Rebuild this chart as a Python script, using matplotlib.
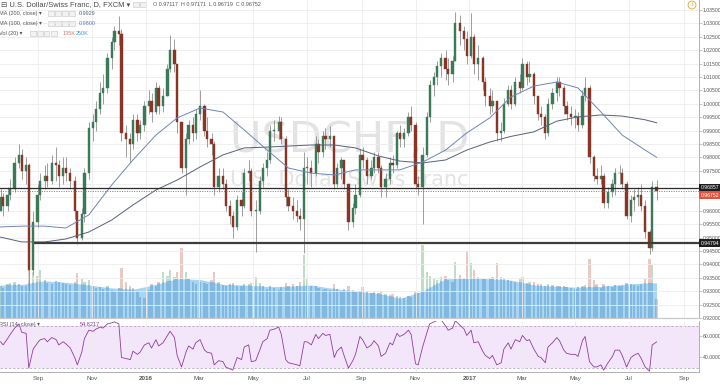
import numpy as np
import pandas as pd
import matplotlib
matplotlib.use("Agg")
import matplotlib.pyplot as plt
import matplotlib.dates as mdates
from matplotlib.patches import Rectangle

plt.rcParams["font.family"] = ["Liberation Sans", "DejaVu Sans"]

# USDCHF, one candle per 3 trading days
first_open = 0.9600
close = [
    0.9650, 0.9620, 0.9660, 0.9680, 0.9780, 0.9810, 0.9750, 0.9770, 0.9380, 0.9560,
    0.9660, 0.9710, 0.9730, 0.9710, 0.9780, 0.9770, 0.9730, 0.9760, 0.9740, 0.9710,
    0.9600, 0.9500, 0.9590, 0.9740, 0.9910, 0.9930, 0.9980, 1.0040, 1.0060, 1.0170,
    1.0230, 1.0270, 1.0260, 0.9890, 0.9870, 0.9850, 0.9940, 0.9890, 0.9920, 0.9990,
    1.0010, 0.9970, 1.0060, 0.9990, 1.0030, 1.0130, 1.0200, 1.0150, 0.9930, 0.9760,
    0.9870, 0.9920, 0.9890, 0.9960, 0.9990, 0.9900, 0.9870, 0.9850, 0.9690, 0.9730,
    0.9700, 0.9620, 0.9580, 0.9540, 0.9640, 0.9620, 0.9740, 0.9750, 0.9600, 0.9600,
    0.9710, 0.9760, 0.9790, 0.9900, 0.9900, 0.9930, 0.9870, 0.9650, 0.9620, 0.9600,
    0.9580, 0.9570, 0.9760, 0.9760, 0.9740, 0.9850, 0.9820, 0.9880, 0.9870, 0.9880,
    0.9700, 0.9760, 0.9790, 0.9700, 0.9560, 0.9610, 0.9660, 0.9810, 0.9790, 0.9730,
    0.9760, 0.9800, 0.9760, 0.9690, 0.9720, 0.9780, 0.9770, 0.9890, 0.9870, 0.9890,
    0.9950, 0.9920, 0.9700, 0.9690, 0.9810, 0.9950, 1.0070, 1.0100, 1.0140, 1.0170,
    1.0130, 1.0110, 1.0160, 1.0300, 1.0270, 1.0240, 1.0180, 1.0250, 1.0150, 1.0170,
    1.0080, 1.0030, 0.9990, 1.0010, 0.9890, 0.9900, 1.0000, 1.0050, 1.0000, 1.0080,
    1.0060, 1.0150, 1.0100, 1.0110, 1.0030, 0.9960, 0.9950, 0.9890, 1.0000, 1.0040,
    1.0080, 1.0060, 0.9990, 0.9960, 0.9950, 0.9950, 0.9920, 1.0030, 1.0060, 0.9800,
    0.9730, 0.9720, 0.9730, 0.9630, 0.9670, 0.9700, 0.9740, 0.9740, 0.9700, 0.9580,
    0.9640, 0.9650, 0.9660, 0.9620, 0.9520, 0.9460, 0.9690, 0.96752,
]
high = [
    0.9680, 0.9665, 0.9690, 0.9720, 0.9800, 0.9850, 0.9830, 0.9800, 0.9780, 0.9600,
    0.9700, 0.9740, 0.9770, 0.9780, 0.9810, 0.9840, 0.9790, 0.9800, 0.9800, 0.9760,
    0.9730, 0.9600, 0.9610, 0.9760, 0.9930, 0.9960, 1.0010, 1.0080, 1.0110, 1.0190,
    1.0250, 1.0290, 1.0328, 1.0280, 0.9920, 0.9890, 0.9960, 0.9960, 0.9940, 1.0010,
    1.0050, 1.0040, 1.0080, 1.0070, 1.0060, 1.0150, 1.0257, 1.0240, 1.0150, 0.9930,
    0.9890, 0.9940, 0.9950, 0.9980, 1.0050, 1.0000, 0.9950, 0.9890, 0.9860, 0.9760,
    0.9760, 0.9720, 0.9640, 0.9600, 0.9660, 0.9670, 0.9760, 0.9790, 0.9760, 0.9640,
    0.9730, 0.9780, 0.9820, 0.9920, 0.9940, 0.9955, 0.9950, 0.9880, 0.9680, 0.9650,
    0.9640, 0.9610, 0.9820, 0.9800, 0.9790, 0.9880, 0.9870, 0.9900, 0.9910, 0.9915,
    0.9880, 0.9780, 0.9800, 0.9790, 0.9700, 0.9630, 0.9700, 0.9830, 0.9840, 0.9800,
    0.9790, 0.9820, 0.9820, 0.9770, 0.9740, 0.9800, 0.9810, 0.9900, 0.9920, 0.9910,
    0.9970, 0.9990, 0.9930, 0.9730, 0.9840, 0.9970, 1.0090, 1.0120, 1.0160, 1.0190,
    1.0200, 1.0170, 1.0180, 1.0344, 1.0330, 1.0290, 1.0270, 1.0340, 1.0260, 1.0220,
    1.0180, 1.0100, 1.0060, 1.0050, 1.0010, 0.9930, 1.0020, 1.0070, 1.0070, 1.0100,
    1.0110, 1.0170, 1.0160, 1.0160, 1.0120, 1.0030, 0.9990, 0.9960, 1.0020, 1.0060,
    1.0100, 1.0100, 1.0070, 1.0010, 0.9990, 0.9980, 0.9970, 1.0050, 1.0100, 1.0070,
    0.9810, 0.9760, 0.9770, 0.9740, 0.9690, 0.9720, 0.9760, 0.9770, 0.9760, 0.9710,
    0.9660, 0.9680, 0.9690, 0.9700, 0.9640, 0.9530, 0.9710, 0.97171,
]
low = [
    0.9600, 0.9580, 0.9600, 0.9640, 0.9670, 0.9760, 0.9720, 0.9700, 0.9300, 0.9360,
    0.9540, 0.9640, 0.9680, 0.9690, 0.9700, 0.9710, 0.9690, 0.9700, 0.9710, 0.9680,
    0.9570, 0.9476, 0.9490, 0.9560, 0.9720, 0.9860, 0.9900, 0.9960, 1.0000, 1.0040,
    1.0130, 1.0200, 1.0220, 0.9860, 0.9800, 0.9780, 0.9830, 0.9860, 0.9870, 0.9900,
    0.9960, 0.9930, 0.9960, 0.9960, 0.9970, 1.0030, 1.0120, 1.0120, 0.9890, 0.9740,
    0.9660, 0.9850, 0.9860, 0.9870, 0.9940, 0.9880, 0.9840, 0.9810, 0.9660, 0.9670,
    0.9680, 0.9600, 0.9550, 0.9500, 0.9530, 0.9580, 0.9610, 0.9710, 0.9580, 0.9445,
    0.9590, 0.9690, 0.9730, 0.9780, 0.9860, 0.9870, 0.9850, 0.9620, 0.9600, 0.9570,
    0.9560, 0.9530, 0.9443, 0.9700, 0.9690, 0.9730, 0.9780, 0.9800, 0.9830, 0.9840,
    0.9680, 0.9690, 0.9720, 0.9680, 0.9530, 0.9540, 0.9590, 0.9650, 0.9760, 0.9700,
    0.9720, 0.9740, 0.9740, 0.9650, 0.9650, 0.9700, 0.9740, 0.9760, 0.9840, 0.9840,
    0.9880, 0.9900, 0.9680, 0.9660, 0.9550, 0.9800, 0.9930, 1.0030, 1.0070, 1.0100,
    1.0090, 1.0070, 1.0080, 1.0160, 1.0220, 1.0200, 1.0150, 1.0170, 1.0110, 1.0090,
    1.0050, 0.9990, 0.9960, 0.9970, 0.9860, 0.9860, 0.9890, 0.9990, 0.9980, 0.9990,
    1.0040, 1.0050, 1.0070, 1.0080, 1.0000, 0.9940, 0.9920, 0.9870, 0.9880, 0.9980,
    1.0010, 1.0030, 0.9960, 0.9940, 0.9920, 0.9910, 0.9900, 0.9910, 1.0010, 0.9780,
    0.9710, 0.9700, 0.9700, 0.9610, 0.9610, 0.9650, 0.9660, 0.9700, 0.9680, 0.9570,
    0.9560, 0.9600, 0.9620, 0.9600, 0.9500, 0.9440, 0.9450, 0.96400,
]
# volume, thousands
volume = [
    230, 215, 240, 250, 260, 245, 230, 225, 380, 330, 300,
    340, 270, 250, 240, 265, 255, 250, 245, 235, 260,
    320, 280, 260, 270, 230, 215, 220, 210, 225, 200,
    195, 215, 360, 260, 225, 215, 190, 150, 140, 200,
    240, 230, 255, 330, 300, 340, 290, 330, 500, 330,
    280, 255, 245, 260, 250, 240, 270, 330, 260, 235,
    230, 245, 250, 230, 225, 245, 240, 250, 290, 250,
    225, 210, 230, 215, 200, 220, 250, 230, 240, 230,
    260, 450, 280, 230, 225, 215, 200, 205, 200, 240,
    210, 190, 205, 230, 200, 185, 190, 220, 190, 180,
    185, 175, 190, 170, 165, 170, 160, 150, 145, 155,
    150, 190, 175, 520, 330, 300, 280, 270, 290, 300,
    270, 260, 400, 310, 280, 480, 390, 340, 290, 280,
    275, 285, 290, 390, 290, 280, 270, 265, 260, 275,
    290, 250, 255, 260, 240, 245, 230, 240, 235, 230,
    225, 230, 220, 215, 210, 220, 225, 235, 420, 270,
    240, 215, 245, 230, 220, 235, 225, 230, 250, 240,
    235, 230, 240, 280, 420, 380, 135,
]
rsi = [
    55, 52, 58, 62, 68, 72, 64, 63, 30, 48,
    54, 57, 58, 55, 59, 57, 52, 55, 53, 49,
    40, 33, 45, 58, 66, 65, 67, 69, 68, 72,
    73, 74, 72, 40, 39, 38, 46, 43, 45, 52,
    54, 49, 57, 51, 54, 61, 65, 59, 42, 31,
    45, 51, 48, 54, 57, 47, 45, 44, 33, 37,
    36, 31, 29, 28, 40, 38, 50, 52, 36, 37,
    48, 55, 58, 66, 67, 69, 62, 38, 35, 34,
    33, 32, 55, 55, 52, 62, 58, 63, 61, 62,
    40, 46, 50, 42, 30, 37, 43, 60, 57, 49,
    52, 56, 51, 41, 44, 54, 52, 63, 60, 62,
    66, 62, 34, 33, 50, 64, 72, 74, 75, 76,
    70, 66, 68, 75, 71, 67, 61, 66, 54, 55,
    46, 42, 39, 42, 33, 35, 48, 54, 48, 57,
    55, 61, 56, 57, 48, 41, 40, 35, 50, 54,
    59, 56, 47, 44, 43, 43, 41, 56, 60, 36,
    31, 31, 33, 28, 35, 41, 47, 47, 42, 31,
    40, 42, 44, 40, 31, 27, 52, 54.82,
]

# moving averages, read every 6th candle plus the last one
ma_idx = list(range(0, 178, 6)) + [177]
ma200 = [0.9502, 0.9484, 0.9484, 0.9495, 0.9521, 0.9566, 0.9622, 0.9678, 0.9715, 0.9764,
         0.9809, 0.9835, 0.9838, 0.9842, 0.9846, 0.9846, 0.9835, 0.9805, 0.9786, 0.9779,
         0.9790, 0.9827, 0.9857, 0.9878, 0.9895, 0.9935, 0.9951, 0.9958, 0.9954, 0.9940,
         0.9929]
ma100 = [0.9540, 0.9543, 0.9543, 0.9536, 0.9585, 0.9697, 0.9790, 0.9883, 0.9947, 0.9984,
         0.9969, 0.9902, 0.9827, 0.9760, 0.9741, 0.9734, 0.9753, 0.9753, 0.9753, 0.9782,
         0.9827, 0.9891, 0.9947, 1.0025, 1.0066, 1.0081, 1.0059, 0.9969, 0.9883, 0.9827,
         0.9800]
vol_ma = [235, 240, 265, 255, 235, 215, 205, 240, 280, 275,
          240, 235, 225, 225, 235, 210, 190, 175, 140, 190,
          280, 285, 280, 270, 235, 225, 220, 225, 240, 250,
          250]

level_high = 0.96857
level_last = 0.96752
level_support = 0.94794
support_from = "2015-08-27"

UP, DN, WICK = "#3b7a58", "#8a3426", "#8e8e8e"
W, H = 720, 385

dates = pd.bdate_range("2015-07-20", periods=len(close), freq="3B")
x = mdates.date2num(dates)
c = np.array(close)
o = np.array([first_open] + close[:-1])
up = c >= o

fig = plt.figure(figsize=(W / 100, H / 100), dpi=100)


def rect(top, bottom):
    return [0, 1 - bottom / H, 699 / W, (bottom - top) / H]


def px(xp, yp):
    return xp / W, 1 - yp / H


axv = fig.add_axes(rect(0, 318), zorder=0)
ax = fig.add_axes(rect(0, 318), zorder=1, sharex=axv)
rax = fig.add_axes(rect(321, 372), zorder=1, sharex=axv)
ax.patch.set_visible(False)

xlim = (mdates.date2num(pd.Timestamp("2015-07-19 10:00")),
        mdates.date2num(pd.Timestamp("2017-09-18")))
month_ticks = pd.date_range("2015-09-01", "2017-09-01", freq="2MS")

# volume with its moving average area
axv.set_ylim(0, 2270)
area = axv.fill_between(x[ma_idx], 0, vol_ma, color="#a9d5f2", lw=0, zorder=1)
axv.bar(x, volume, width=2.6, color=np.where(up, "#bcdfc6", "#ebc8c2"), lw=0, zorder=2)
blue = axv.bar(x, volume, width=2.6, color="#82b8e0", lw=0, zorder=3)
clip = area.get_paths()[0]
for p in blue:
    p.set_clip_path(clip, axv.transData)
axv.set_yticks([])
axv.tick_params(axis="x", length=0, labelbottom=False)
for s in axv.spines.values():
    s.set_visible(False)

# price pane
ax.text(0.5, 0.56, "USDCHF, D", transform=ax.transAxes, ha="center", va="center",
        fontsize=31, color="#e3e3e3", family="DejaVu Sans", zorder=0)
ax.text(0.5, 0.437, "U.S. Dollar/Swiss Franc", transform=ax.transAxes, ha="center",
        va="center", fontsize=15, color="#e3e3e3", family="DejaVu Sans", zorder=0)

ax.vlines(x, low, high, color=WICK, lw=0.6, zorder=3)
ax.bar(x, np.maximum(np.abs(c - o), 0.0003), bottom=np.minimum(o, c), width=2.6,
       color=np.where(up, UP, DN), edgecolor=np.where(up, UP, DN), lw=0.3, zorder=4)
ax.plot(x[ma_idx], ma200, color="#56617a", lw=0.7, zorder=5)
ax.plot(x[ma_idx], ma100, color="#6d86b8", lw=0.7, zorder=5)

ax.axhline(level_high, color="#2b2b2b", lw=0.9, zorder=6)
ax.axhline(level_last, color="#e0533f", lw=0.7, ls=(0, (1, 1.5)), zorder=6)
ax.hlines(level_support, mdates.date2num(pd.Timestamp(support_from)), xlim[1],
          color="#3d3d3d", lw=1.6, zorder=6)

ax.set_xlim(*xlim)
ax.set_ylim(0.920, 1.03873)
ax.yaxis.tick_right()
price_ticks = np.round(np.arange(0.920, 1.0351, 0.005), 3)
ax.set_yticks(price_ticks)
# the two ticks hidden behind the price boxes carry no label
ax.set_yticklabels(["" if v in (0.965, 0.970) else f"{v:.5f}" for v in price_ticks])
ax.tick_params(axis="y", labelsize=3.7, labelcolor="#555555", length=2, width=0.4,
               color="#999999", pad=0.6)
ax.set_xticks(mdates.date2num(month_ticks))
ax.tick_params(axis="x", length=0, labelbottom=False)
ax.grid(True, color="#ececec", lw=0.6)
ax.set_axisbelow(True)
for s in ("top", "left"):
    ax.spines[s].set_visible(False)
ax.spines["right"].set_color("#a5a5a5")
ax.spines["right"].set_linewidth(0.6)
ax.spines["bottom"].set_color("#c9c9c9")
ax.spines["bottom"].set_linewidth(0.9)

for val, fc, dy in [(level_high, "#1e1e1e", 0), (level_last, "#e0533f", -3.1),
                    (level_support, "#1e1e1e", 0)]:
    ax.annotate(f"{val:.5f}", xy=(1, val), xycoords=("axes fraction", "data"),
                xytext=(1.0, dy), textcoords="offset points", ha="left", va="center",
                fontsize=3.7, color="white", annotation_clip=False, zorder=10,
                bbox=dict(boxstyle="square,pad=0.3", fc=fc, ec="none"))

# RSI pane
rax.axhspan(30, 70, color="#f3e6fb", lw=0, zorder=0)
for lv in (70, 30):
    rax.axhline(lv, color="#b9a8c6", lw=0.6, ls=(0, (3, 2)), zorder=1)
rax.plot(x, rsi, color="#8e3d9e", lw=0.6, zorder=3)
rax.set_ylim(26.19, 74.76)
rax.yaxis.tick_right()
rax.set_yticks([40, 60])
rax.set_yticklabels(["40.0000", "60.0000"])
rax.tick_params(axis="y", labelsize=3.7, labelcolor="#555555", length=2, width=0.4,
                color="#999999", pad=0.6)
rax.set_xticks(mdates.date2num(month_ticks))
rax.set_xticklabels([str(d.year) if d.month == 1 else d.strftime("%b") for d in month_ticks])
for lab, d in zip(rax.get_xticklabels(), month_ticks):
    if d.month == 1:
        lab.set_fontweight("bold")
rax.tick_params(axis="x", labelsize=4.5, labelcolor="#555555", length=0, pad=3)
rax.grid(True, axis="x", color="#ececec", lw=0.6)
rax.set_xlim(*xlim)
for s in ("top", "left"):
    rax.spines[s].set_visible(False)
for s in ("right", "bottom"):
    rax.spines[s].set_color("#a5a5a5")
    rax.spines[s].set_linewidth(0.6)


# legend texts in the top-left corner
def icons(x0, y0, n):
    for i in range(n):
        fig.add_artist(Rectangle(px(x0 + i * 7, y0 + 2.5), 5.5 / W, 5 / H,
                                 transform=fig.transFigure, fc="#f2f2f2",
                                 ec="#c4c4c4", lw=0.4))


fig.text(*px(1, 4.5), "\u229f U.S. Dollar/Swiss Franc, D, FXCM \u25be", fontsize=5.4,
         color="#4a4a4a", va="center")
icons(133, 4.5, 2)
fig.text(*px(153, 4.5), "O 0.97117  H 0.97171  L 0.96719  C 0.96752", fontsize=3.9,
         color="#555555", va="center")

fig.text(*px(-1, 13.5), "MA (200, close) \u25be", fontsize=4, color="#555555", va="center")
icons(48, 13.5, 4)
fig.text(*px(79, 13.5), "0.9929", fontsize=4, color="#56617a", va="center")
fig.text(*px(-1, 23.5), "MA (100, close) \u25be", fontsize=4, color="#555555", va="center")
icons(48, 23.5, 4)
fig.text(*px(79, 23.5), "0.9800", fontsize=4, color="#5a7bb5", va="center")
fig.text(*px(-1, 33.5), "Vol (20) \u25be", fontsize=4, color="#555555", va="center")
icons(30, 33.5, 4)
fig.text(*px(63, 33.5), "135K", fontsize=4, color="#d27a6e", va="center")
fig.text(*px(76, 33.5), "250K", fontsize=4, color="#3d9ad6", va="center")

fig.text(*px(-1, 324.5), "RSI (14, close) \u25be", fontsize=4, color="#555555", va="center")
icons(43, 324.5, 4)
fig.text(*px(80, 324.5), "54.8217", fontsize=4, color="#8e3d9e", va="center")

fig.text(*px(692, 5), "!", fontsize=3.5, color="#f0a030", ha="center", va="center",
         fontweight="bold",
         bbox=dict(boxstyle="circle,pad=0.3", fc="white", ec="#f0a030", lw=0.6))

fig.savefig("out.png", dpi=100)
